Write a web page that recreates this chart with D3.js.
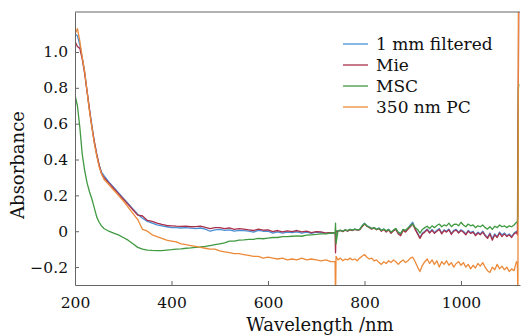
<!DOCTYPE html>
<html>
<head>
<meta charset="utf-8">
<script src="https://cdn.jsdelivr.net/npm/d3@7"></script>
<style>
  body { margin: 0; background: #fff; }
  svg { display: block; }
</style>
</head>
<body>
<div id="chart"></div>
<script>
const seriesNames = ['1 mm filtered', 'Mie', 'MSC', '350 nm PC'];
const xTicks = [200, 400, 600, 800, 1000];
const yTicks = [-0.2, 0, 0.2, 0.4, 0.6, 0.8, 1.0];

const wavelength = [
  200, 205, 210, 215, 220, 225, 230, 235, 240, 245, 250, 255,
  260, 270, 280, 290, 300, 310, 320, 330, 340, 350, 360, 370, 380, 390,
  400, 410, 420, 430, 440, 450, 460, 470, 480, 490, 500, 510, 520, 530,
  540, 550, 560, 570, 580, 590, 600, 610, 620, 630, 640, 650, 660, 670,
  680, 690, 700, 710, 720, 730,
  739, 740, 741,
  745, 750, 755, 760, 765, 770, 775, 780, 785, 790,
  795, 800, 805, 810, 815, 820, 825, 830, 835, 840,
  845, 850, 855, 860, 865, 870, 875, 880, 885, 890,
  895, 900, 905, 910, 915, 920, 925, 930, 935, 940,
  945, 950, 955, 960, 965, 970, 975, 980, 985, 990,
  995, 1000, 1005, 1010, 1015, 1020, 1025, 1030, 1035, 1040,
  1045, 1050, 1055, 1060, 1065, 1070, 1075, 1080, 1085, 1090,
  1095, 1100, 1105, 1110, 1115,
  1117, 1118, 1119, 1120
];

const filtered = [
  1.10, 1.09, 1.04, 0.97, 0.89, 0.78, 0.68, 0.59, 0.50, 0.43, 0.37, 0.33,
  0.31, 0.275, 0.245, 0.215, 0.185, 0.155, 0.125, 0.095, 0.072, 0.055, 0.045, 0.035, 0.03, 0.025,
  0.02, 0.02, 0.018, 0.02, 0.017, 0.015, 0.018, 0.012, 0.0, 0.008, 0.01, 0.005, 0.008, 0.0,
  0.005, 0.003, 0.0, -0.005, 0.005, 0.0, 0.0, -0.01, -0.003, -0.01, -0.005, -0.008, -0.003, -0.01,
  -0.005, -0.012, -0.005, -0.008, -0.012, -0.01,
  -0.01, -0.02, 0.0,
  0.0, 0.005, 0.0, 0.008, 0.002, 0.01, 0.005, 0.012, 0.008, 0.01,
  0.03, 0.045, 0.03, 0.025, 0.015, 0.02, 0.01, 0.018, 0.005, 0.012,
  0.0, 0.01, -0.008, 0.005, 0.015, -0.01, -0.02, 0.008, 0.0, 0.015,
  0.035, 0.05, 0.015, -0.01, -0.035, -0.01, 0.0, 0.012, -0.005, 0.01,
  -0.008, 0.005, 0.015, -0.01, 0.008, 0.0, 0.012, -0.012, 0.005, 0.01,
  -0.005, 0.008, 0.0, -0.015, 0.005, -0.008, 0.0, -0.02, -0.005, -0.015,
  0.0, -0.02, -0.035, -0.01, -0.04, -0.015, -0.03, -0.005, -0.02, -0.01,
  -0.025, -0.015, -0.03, -0.01, 0.0,
  -0.01, null, null, null
];

const mie = [
  1.06, 1.03, 1.02, 0.96, 0.88, 0.78, 0.68, 0.58, 0.50, 0.43, 0.37, 0.32,
  0.30, 0.27, 0.24, 0.21, 0.18, 0.15, 0.12, 0.09, 0.085, 0.06, 0.055, 0.045, 0.038, 0.032,
  0.03, 0.028, 0.027, 0.028, 0.025, 0.026, 0.028, 0.022, 0.015, 0.02, 0.02, 0.015, 0.018, 0.01,
  0.014, 0.012, 0.008, 0.004, 0.012, 0.006, 0.008, -0.002, 0.004, -0.004, 0.002, -0.002, 0.004, -0.004,
  0.0, -0.008, -0.002, -0.004, -0.01, -0.008,
  -0.008, -0.12, 0.0,
  0.0, 0.004, -0.002, 0.006, 0.0, 0.008, 0.004, 0.01, 0.006, 0.008,
  0.025, 0.04, 0.028, 0.02, 0.012, 0.018, 0.008, 0.015, 0.0, 0.01,
  -0.005, 0.008, -0.012, 0.002, 0.01, -0.015, -0.025, 0.005, -0.005, 0.01,
  0.025, 0.04, 0.01, -0.015, -0.04, -0.015, -0.005, 0.008, -0.01, 0.005,
  -0.012, 0.0, 0.01, -0.015, 0.004, -0.005, 0.008, -0.018, 0.0, 0.006,
  -0.01, 0.004, -0.006, -0.02, 0.0, -0.012, -0.005, -0.025, -0.01, -0.02,
  -0.005, -0.025, -0.04, -0.015, -0.05, -0.02, -0.035, -0.01, -0.03, -0.015,
  -0.03, -0.02, -0.035, -0.015, -0.005,
  -0.02, 0.62, 0.9, 1.4
];

const msc = [
  0.76, 0.70, 0.58, 0.43, 0.34, 0.27, 0.22, 0.18, 0.13, 0.08, 0.05, 0.03,
  0.015, 0.0, -0.01, -0.02, -0.035, -0.05, -0.07, -0.09, -0.10, -0.105, -0.107, -0.108, -0.108, -0.105,
  -0.103, -0.10, -0.098, -0.095, -0.093, -0.09, -0.088, -0.085, -0.08, -0.075, -0.07, -0.065, -0.055, -0.055,
  -0.05, -0.048, -0.045, -0.045, -0.04, -0.042, -0.038, -0.035, -0.035, -0.03, -0.03, -0.028, -0.026, -0.028,
  -0.022, -0.02, -0.018, -0.015, -0.015, -0.01,
  -0.01, 0.045, -0.07,
  0.002, 0.006, 0.0, 0.008, 0.004, 0.01, 0.006, 0.012, 0.008, 0.01,
  0.03, 0.042, 0.03, 0.022, 0.015, 0.02, 0.01, 0.016, 0.004, 0.012,
  0.002, 0.01, -0.005, 0.006, 0.015, -0.005, -0.012, 0.01, 0.005, 0.018,
  0.03, 0.04, 0.02, 0.01, -0.01, 0.01, 0.02, 0.028, 0.015, 0.03,
  0.02, 0.032, 0.04, 0.025, 0.035, 0.03, 0.045, 0.025, 0.038, 0.04,
  0.03, 0.05, 0.035, 0.025, 0.04, 0.03, 0.035, 0.02, 0.03, 0.025,
  0.035, 0.02, 0.012, 0.025, 0.01, 0.028, 0.02, 0.035, 0.025, 0.03,
  0.02, 0.03, 0.025, 0.035, 0.05,
  0.05, 0.1, 0.8, 0.82
];

const pc350 = [
  1.10, 1.13, 1.06, 0.97, 0.89, 0.78, 0.67, 0.58, 0.49, 0.42, 0.36, 0.32,
  0.29, 0.26, 0.23, 0.20, 0.17, 0.135, 0.10, 0.065, 0.01, 0.0, -0.02, -0.03, -0.04, -0.05,
  -0.055, -0.06, -0.07, -0.075, -0.08, -0.085, -0.09, -0.095, -0.10, -0.10, -0.11, -0.115, -0.12, -0.125,
  -0.125, -0.13, -0.135, -0.14, -0.14, -0.15, -0.145, -0.15, -0.155, -0.15, -0.16, -0.155, -0.16, -0.15,
  -0.16, -0.155, -0.16, -0.165, -0.16, -0.17,
  -0.17, -0.40, -0.14,
  -0.16, -0.15, -0.165, -0.155, -0.16, -0.15, -0.16, -0.155, -0.165, -0.15,
  -0.14, -0.13, -0.145, -0.155, -0.15, -0.165, -0.16, -0.175, -0.185, -0.17,
  -0.18, -0.165, -0.175, -0.16, -0.17, -0.185, -0.17, -0.16, -0.175, -0.165,
  -0.15, -0.145, -0.17, -0.2, -0.225, -0.19, -0.17, -0.155, -0.18, -0.16,
  -0.185, -0.165, -0.2, -0.17, -0.185, -0.165, -0.19, -0.175, -0.2, -0.18,
  -0.17, -0.19, -0.175, -0.2, -0.185, -0.21, -0.19, -0.205, -0.18, -0.195,
  -0.175, -0.2, -0.22, -0.23, -0.2, -0.215, -0.185, -0.21, -0.195, -0.215,
  -0.2, -0.225, -0.21, -0.22, -0.17,
  -0.18, -0.40, 1.4, 1.4
];

const colors = ['#4b8fd5', '#a8304a', '#409a42', '#ec8a3a'];

const width = 526;
const height = 335;
const margin = { top: 12, right: 6, bottom: 50, left: 75 };
const plotRight = width - margin.right;
const plotBottom = height - margin.bottom;

const svg = d3.select('#chart').append('svg')
  .attr('width', width)
  .attr('height', height);

const x = d3.scaleLinear()
  .domain([200, 1122.3])
  .range([margin.left, plotRight]);

const y = d3.scaleLinear()
  .domain([-0.3, 1.223])
  .range([plotBottom, margin.top]);

svg.append('defs').append('clipPath')
  .attr('id', 'plot-clip')
  .append('rect')
  .attr('x', margin.left)
  .attr('y', margin.top)
  .attr('width', plotRight - margin.left)
  .attr('height', plotBottom - margin.top);

const series = [filtered, mie, msc, pc350];

const line = d3.line()
  .defined(d => d[1] !== null)
  .x(d => x(d[0]))
  .y(d => y(d[1]));

svg.append('g')
  .attr('clip-path', 'url(#plot-clip)')
  .selectAll('path')
  .data(series)
  .enter()
  .append('path')
  .attr('fill', 'none')
  .attr('stroke', (d, i) => colors[i])
  .attr('stroke-width', 1.3)
  .attr('stroke-linejoin', 'round')
  .attr('d', d => line(wavelength.map((w, i) => [w, d[i]])));

// axes, ticks point inward
const axisColor = '#666';
const tickFont = '"DejaVu Serif", serif';

const xAxis = svg.append('g')
  .attr('transform', `translate(0,${plotBottom})`)
  .call(d3.axisBottom(x).tickValues(xTicks).tickSizeInner(-4).tickSizeOuter(0).tickPadding(12)
    .tickFormat(d3.format('d')));

const yAxis = svg.append('g')
  .attr('transform', `translate(${margin.left},0)`)
  .call(d3.axisLeft(y).tickValues(yTicks).tickSizeInner(-4).tickSizeOuter(0).tickPadding(7)
    .tickFormat(d => d === 0 ? '0' : d3.format('.1f')(d).replace('-', '\u2212')));

[xAxis, yAxis].forEach(a => {
  a.select('.domain').attr('stroke', axisColor);
  a.selectAll('.tick line').attr('stroke', axisColor);
  a.selectAll('.tick text')
    .attr('fill', '#111')
    .style('font-family', tickFont)
    .style('font-size', '15.5px');
});

svg.append('line')
  .attr('x1', margin.left)
  .attr('x2', plotRight)
  .attr('y1', margin.top)
  .attr('y2', margin.top)
  .attr('stroke', axisColor);

svg.append('text')
  .attr('x', 320)
  .attr('y', 331)
  .attr('text-anchor', 'middle')
  .attr('fill', '#111')
  .style('font-family', tickFont)
  .style('font-size', '18px')
  .text('Wavelength /nm');

svg.append('text')
  .attr('transform', 'translate(24,165) rotate(-90)')
  .attr('text-anchor', 'middle')
  .attr('fill', '#111')
  .style('font-family', tickFont)
  .style('font-size', '18px')
  .text('Absorbance');

// legend
const legend = svg.append('g')
  .selectAll('g')
  .data(seriesNames)
  .enter()
  .append('g')
  .attr('transform', (d, i) => `translate(343,${44 + i * 21})`);

legend.append('line')
  .attr('x1', 0)
  .attr('x2', 25)
  .attr('stroke', (d, i) => colors[i])
  .attr('stroke-width', 1.3);

legend.append('text')
  .attr('x', 33)
  .attr('y', 6)
  .attr('fill', '#111')
  .style('font-family', tickFont)
  .style('font-size', '17px')
  .text(d => d);
</script>
</body>
</html>
